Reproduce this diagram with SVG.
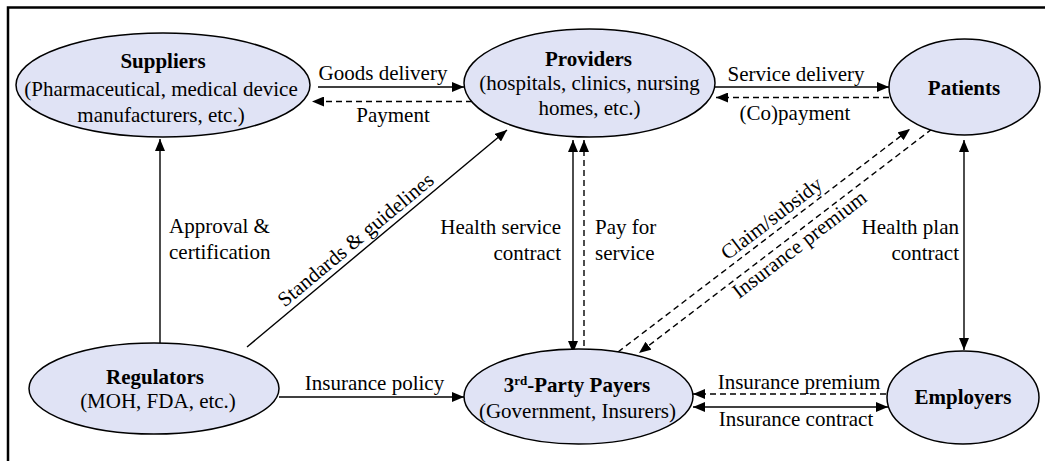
<svg xmlns="http://www.w3.org/2000/svg" width="1045" height="461" viewBox="0 0 1045 461" font-family="'Liberation Serif', 'Times New Roman', serif" font-size="21">
<style>
.b{font-weight:bold}
.m{text-anchor:middle}
.e{text-anchor:end}
.node ellipse{fill:#e0e3f5;stroke:#000;stroke-width:1.5}
.c line{stroke:#000;stroke-width:1.4;fill:none}
.c line.d{stroke-dasharray:6,4}
</style>
<defs>
<marker id="ah" viewBox="0 0 12 10" refX="12" refY="5" markerWidth="12" markerHeight="10" markerUnits="userSpaceOnUse" orient="auto-start-reverse">
<path d="M0,0 L12,5 L0,10 z" fill="#000"/>
</marker>
</defs>
<rect x="8" y="7.5" width="1060" height="480" fill="#fff" stroke="#000" stroke-width="2.5"/>

<g class="c" id="connectors">
<line x1="318" y1="87" x2="464" y2="87" marker-end="url(#ah)"/>
<line class="d" x1="472" y1="101.5" x2="312" y2="101.5" marker-end="url(#ah)"/>
<line x1="715" y1="87" x2="889" y2="87" marker-end="url(#ah)"/>
<line class="d" x1="889" y1="97.5" x2="716" y2="97.5" marker-end="url(#ah)"/>
<line x1="160" y1="343" x2="160" y2="139" marker-end="url(#ah)"/>
<line x1="247" y1="347" x2="507" y2="130" marker-end="url(#ah)"/>
<line x1="573" y1="140" x2="573" y2="353" marker-start="url(#ah)" marker-end="url(#ah)"/>
<line class="d" x1="584" y1="346" x2="584" y2="140" marker-end="url(#ah)"/>
<line class="d" x1="618" y1="352" x2="910" y2="129" marker-end="url(#ah)"/>
<line class="d" x1="932" y1="129" x2="639" y2="353" marker-end="url(#ah)"/>
<line x1="964" y1="140" x2="964" y2="350" marker-start="url(#ah)" marker-end="url(#ah)"/>
<line x1="279" y1="397" x2="464" y2="397" marker-end="url(#ah)"/>
<line class="d" x1="886" y1="394" x2="693" y2="394" marker-end="url(#ah)"/>
<line x1="693" y1="407" x2="888" y2="407" marker-start="url(#ah)" marker-end="url(#ah)"/>

<text class="m" x="383" y="80">Goods delivery</text>
<text class="m" x="393" y="122">Payment</text>
<text class="m" x="796" y="81">Service delivery</text>
<text class="m" x="795" y="120">(Co)payment</text>
<text x="169" y="233">Approval &amp;</text>
<text x="169" y="259">certification</text>
<text class="e" x="561" y="234">Health service</text>
<text class="e" x="561" y="260">contract</text>
<text x="595" y="234">Pay for</text>
<text x="595" y="260">service</text>
<text class="e" x="959" y="234">Health plan</text>
<text class="e" x="959" y="260">contract</text>
<text class="m" x="374.5" y="390">Insurance policy</text>
<text class="m" x="799" y="389">Insurance premium</text>
<text class="m" x="796" y="426">Insurance contract</text>
<text class="m" x="360" y="245" transform="rotate(-39.8 360 245)">Standards &amp; guidelines</text>
<text class="m" x="775.6" y="223.8" transform="rotate(-37.4 775.6 223.8)">Claim/subsidy</text>
<text class="m" x="803.6" y="249.8" transform="rotate(-37.4 803.6 249.8)">Insurance premium</text>
</g>

<g class="node" id="suppliers">
<ellipse cx="163" cy="85" rx="147" ry="52"/>
<text class="m b" x="163" y="68">Suppliers</text>
<text class="m" x="161" y="96">(Pharmaceutical, medical device</text>
<text class="m" x="161" y="122">manufacturers, etc.)</text>
</g>
<g class="node" id="providers">
<ellipse cx="589.5" cy="83" rx="125.5" ry="54"/>
<text class="m b" x="588.5" y="66">Providers</text>
<text class="m" x="589.5" y="90">(hospitals, clinics, nursing</text>
<text class="m" x="589.5" y="115">homes, etc.)</text>
</g>
<g class="node" id="patients">
<ellipse cx="964.5" cy="87" rx="75.5" ry="48"/>
<text class="m b" x="964" y="95">Patients</text>
</g>
<g class="node" id="regulators">
<ellipse cx="154" cy="388.5" rx="125" ry="45.5"/>
<text class="m b" x="155" y="384">Regulators</text>
<text class="m" x="158" y="408">(MOH, FDA, etc.)</text>
</g>
<g class="node" id="payers">
<ellipse cx="578.5" cy="396.5" rx="114.5" ry="47.5"/>
<text class="m b" x="577" y="392">3<tspan font-size="13" dy="-7">rd</tspan><tspan dy="7">-Party Payers</tspan></text>
<text class="m" x="577.5" y="418">(Government, Insurers)</text>
</g>
<g class="node" id="employers">
<ellipse cx="963" cy="397.5" rx="76" ry="46.5"/>
<text class="m b" x="963" y="404">Employers</text>
</g>
</svg>
